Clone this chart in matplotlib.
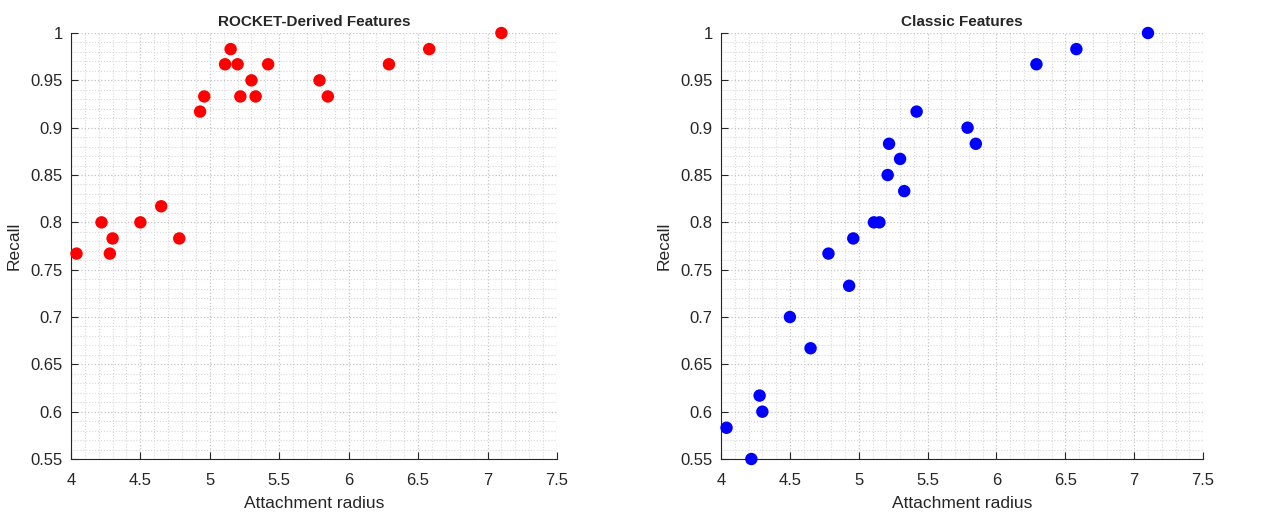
import numpy as np
import matplotlib.pyplot as plt
from matplotlib.ticker import MultipleLocator

plt.rcParams['font.family'] = ['Liberation Sans', 'DejaVu Sans']

radius = [4.04, 4.22, 4.28, 4.30, 4.50, 4.65, 4.78, 4.93, 4.96, 5.11, 5.15,
          5.20, 5.22, 5.30, 5.33, 5.42, 5.79, 5.85, 6.29, 6.58, 7.10]
recall_rocket = [0.767, 0.800, 0.767, 0.783, 0.800, 0.817, 0.783, 0.917, 0.933, 0.967, 0.983,
                 0.967, 0.933, 0.950, 0.933, 0.967, 0.950, 0.933, 0.967, 0.983, 1.000]
radius_classic = [4.04, 4.22, 4.28, 4.30, 4.50, 4.65, 4.78, 4.93, 4.96, 5.11, 5.15,
                  5.21, 5.22, 5.30, 5.33, 5.42, 5.79, 5.85, 6.29, 6.58, 7.10]
recall_classic = [0.583, 0.550, 0.617, 0.600, 0.700, 0.667, 0.767, 0.733, 0.783, 0.800, 0.800,
                  0.850, 0.883, 0.867, 0.833, 0.917, 0.900, 0.883, 0.967, 0.983, 1.000]

titles = ['ROCKET-Derived Features', 'Classic Features']
xticks = [4, 4.5, 5, 5.5, 6, 6.5, 7, 7.5]
yticks = [0.55, 0.6, 0.65, 0.7, 0.75, 0.8, 0.85, 0.9, 0.95, 1]

fig = plt.figure(figsize=(12.83, 5.12), dpi=100)
axes = [fig.add_axes([0.0553, 0.1035, 0.3788, 0.832]),
        fig.add_axes([0.562, 0.1035, 0.3757, 0.832])]

data = [(radius, recall_rocket, '#ff0000'), (radius_classic, recall_classic, '#0000ff')]
ink = '#262626'

for ax, (x, y, c), title in zip(axes, data, titles):
    ax.set_axisbelow(True)
    ax.scatter(x, y, s=80, color=c, edgecolors='none', zorder=3, clip_on=False)
    ax.set_xlim(4, 7.5)
    ax.set_ylim(0.55, 1)
    ax.set_xticks(xticks)
    ax.set_yticks(yticks)
    ax.set_xticklabels([f'{t:g}' for t in xticks])
    ax.set_yticklabels([f'{t:g}' for t in yticks])
    ax.xaxis.set_minor_locator(MultipleLocator(0.1))
    ax.yaxis.set_minor_locator(MultipleLocator(0.01))
    ax.grid(which='major', color='#c4c4c4', linestyle=':', linewidth=0.9)
    ax.grid(which='minor', color='#d8d8d8', linestyle=':', linewidth=0.8)
    ax.tick_params(which='major', direction='in', length=5, colors=ink, labelsize=12)
    ax.tick_params(axis='x', pad=10)
    ax.tick_params(axis='y', pad=6)
    ax.tick_params(which='minor', length=0)
    for s in ['top', 'right']:
        ax.spines[s].set_visible(False)
    for s in ['left', 'bottom']:
        ax.spines[s].set_color(ink)
        ax.spines[s].set_linewidth(0.8)
    ax.set_xlabel('Attachment radius', fontsize=12.5, color=ink, labelpad=6)
    ax.set_ylabel('Recall', fontsize=12.5, color=ink, labelpad=6)
    ax.set_title(title, fontsize=11, fontweight='bold', color=ink, pad=5)

fig.savefig('out.png', dpi=100)
